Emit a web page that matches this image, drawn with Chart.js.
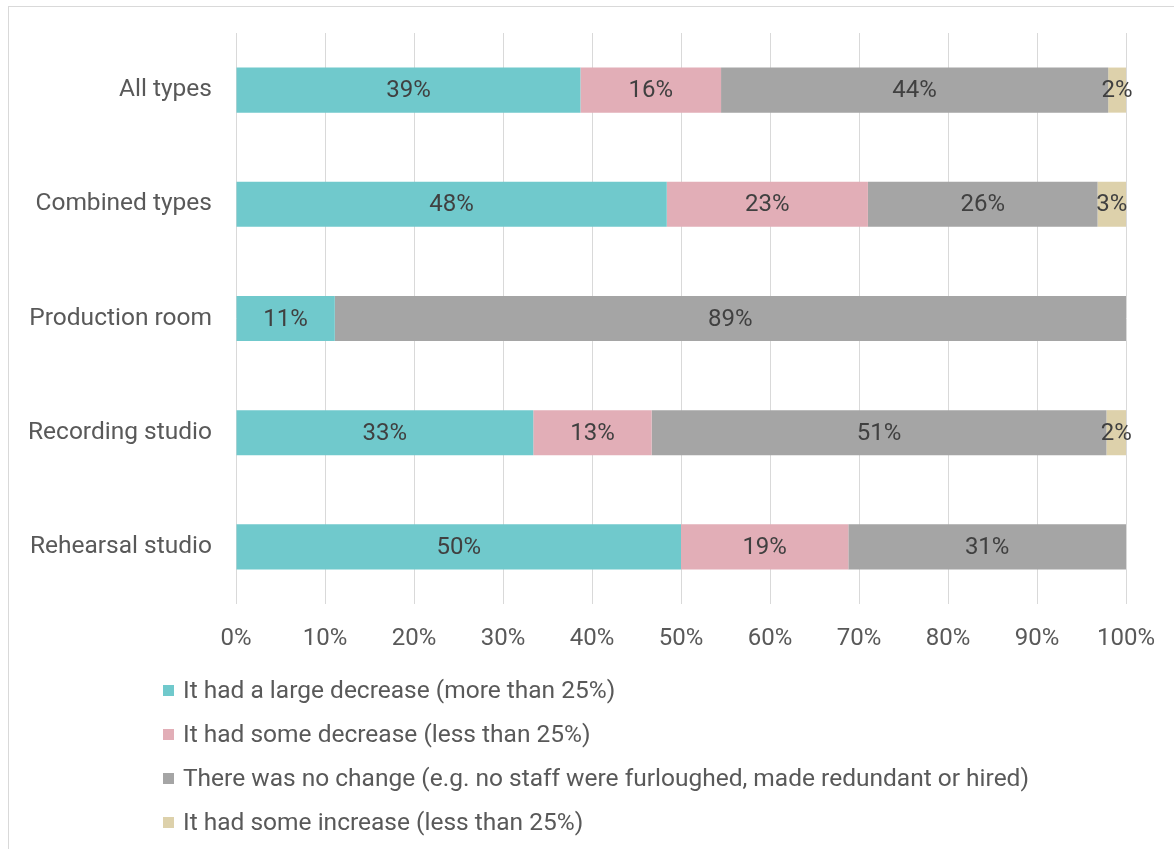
<!DOCTYPE html>
<html>
<head>
<meta charset="utf-8">
<script src="https://cdn.jsdelivr.net/npm/chart.js@4"></script>
<style>
  html, body { margin: 0; padding: 0; background: #fff; }
  #wrap { position: relative; width: 1174px; height: 849px; overflow: hidden; }
  #frame { position: absolute; left: 8px; top: 6px; width: 1200px; height: 900px; border: 1px solid #d9d9d9; box-sizing: border-box; }
  #chart { position: absolute; left: 0; top: 0; }
  #legend { position: absolute; left: 163px; top: 668px; font-family: Roboto, sans-serif; font-size: 24.5px; color: #595959; }
  #legend .item { height: 44px; line-height: 30px; display: flex; align-items: center; white-space: nowrap; }
  #legend .box { width: 11px; height: 11px; margin-right: 9px; display: inline-block; }
</style>
</head>
<body>
<div id="wrap">
  <div id="frame"></div>
  <canvas id="chart" width="1174" height="849"></canvas>
  <div id="legend"></div>
</div>
<script>
const categories = ['All types', 'Combined types', 'Production room', 'Recording studio', 'Rehearsal studio'];
const seriesNames = [
    'It had a large decrease (more than 25%)',
    'It had some decrease (less than 25%)',
    'There was no change (e.g. no staff were furloughed, made redundant or hired)',
    'It had some increase (less than 25%)'
];
const largeDecrease = [38.7, 48.4, 11.1, 33.4, 50.0];
const someDecrease = [15.8, 22.6, 0, 13.3, 18.8];
const noChange = [43.5, 25.8, 88.9, 51.1, 31.2];
const someIncrease = [2.0, 3.2, 0, 2.2, 0];
const xTicks = [0, 10, 20, 30, 40, 50, 60, 70, 80, 90, 100];

const colors = ['#70c9cc', '#e2aeb7', '#a5a5a5', '#ddd1ab'];
const fontFamily = "Roboto, sans-serif";

const barLabels = {
    id: 'barLabels',
    afterDatasetsDraw(chart) {
        const ctx = chart.ctx;
        ctx.save();
        ctx.font = '24px ' + fontFamily;
        ctx.fillStyle = '#404040';
        ctx.textAlign = 'center';
        ctx.textBaseline = 'middle';
        chart.data.datasets.forEach((ds, i) => {
            chart.getDatasetMeta(i).data.forEach((el, j) => {
                const v = ds.data[j];
                if (!v) return;
                ctx.fillText(Math.round(v) + '%', (el.x + el.base) / 2, el.y + 1);
            });
        });
        ctx.restore();
    }
};

const chart = new Chart(document.getElementById('chart'), {
    type: 'bar',
    data: {
        labels: categories,
        datasets: [largeDecrease, someDecrease, noChange, someIncrease].map((d, i) => ({
            label: seriesNames[i], data: d, backgroundColor: colors[i], borderWidth: 0,
            categoryPercentage: 1, barPercentage: 0.395
        }))
    },
    options: {
        indexAxis: 'y', responsive: false, animation: false,
        layout: { padding: { top: 33, right: 48, left: 0, bottom: 0 } },
        plugins: { legend: { display: false }, tooltip: { enabled: false } },
        scales: {
            x: {
                stacked: true, min: 0, max: 100,
                afterBuildTicks: s => { s.ticks = xTicks.map(v => ({ value: v })); },
                afterFit: s => { s.height = 245; s.paddingLeft = 0; s.paddingRight = 0; },
                grid: { color: '#d9d9d9', drawTicks: false },
                border: { display: false },
                ticks: { color: '#595959', padding: 21, font: { family: fontFamily, size: 24 }, callback: v => v + '%' }
            },
            y: {
                stacked: true,
                afterFit: s => { s.width = 236; s.paddingTop = 0; s.paddingBottom = 0; },
                grid: { display: false, drawTicks: false },
                border: { display: false },
                ticks: { color: '#595959', padding: 24, font: { family: fontFamily, size: 24.5 } }
            }
        }
    },
    plugins: [barLabels]
});

const legend = document.getElementById('legend');
chart.data.datasets.forEach(ds => {
    const row = document.createElement('div');
    row.className = 'item';
    const box = document.createElement('span');
    box.className = 'box';
    box.style.background = ds.backgroundColor;
    row.appendChild(box);
    row.appendChild(document.createTextNode(ds.label));
    legend.appendChild(row);
});
</script>
</body>
</html>
